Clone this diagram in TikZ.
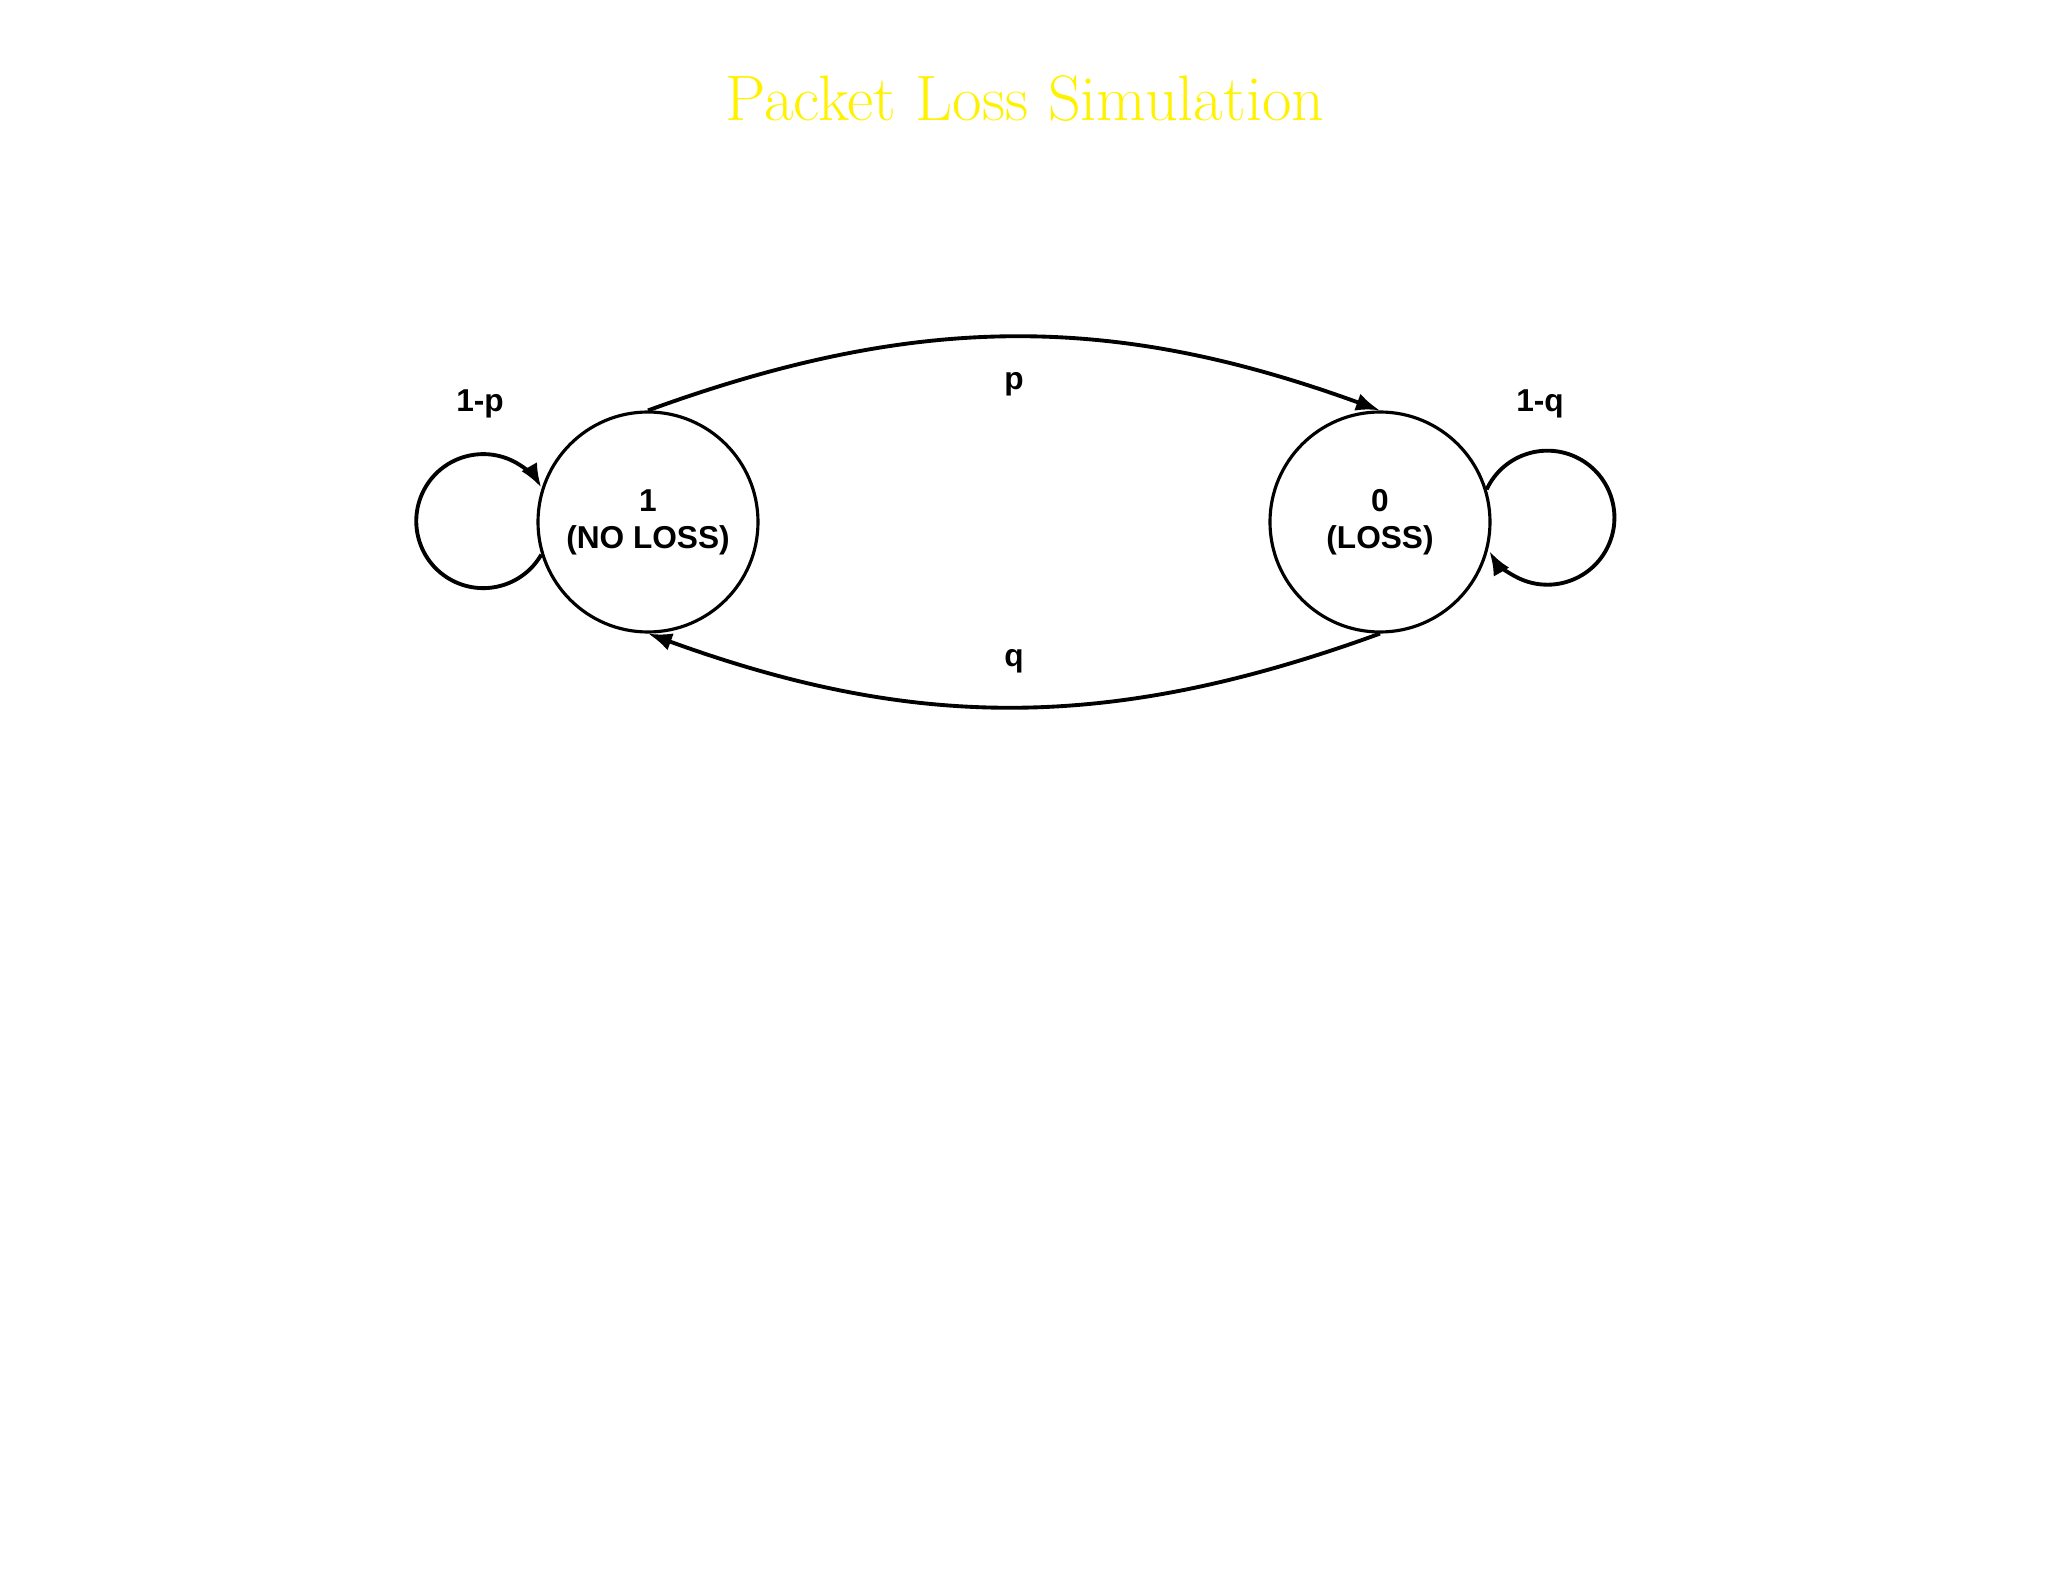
\documentclass[tikz,border=0pt]{standalone}
\usepackage{fontspec}
\newfontfamily\arialfont{Liberation Sans}
\usetikzlibrary{positioning}
\usetikzlibrary{arrows.meta}

\begin{document}
\begin{tikzpicture}[statenode/.style={circle, draw=black, fill=white, line width=0.9pt, minimum size=22mm, inner sep=0pt, align=center, font=\arialfont\bfseries\fontsize{9}{10.5}\selectfont},
edgelabel/.style={font=\arialfont\bfseries\fontsize{9}{10.5}\selectfont},
transition/.style={line width=1.1pt, -{Latex[length=2.4mm,width=1.8mm]}}]
\useasboundingbox (0,0) rectangle (20.48,-15.82);
\node[text=yellow, font=\fontsize{18.3}{22}\selectfont, anchor=base] (title) at (10.25,-1.21) {Packet Loss Simulation};

\node[statenode] (one) at (6.48,-5.22) {1\\(NO LOSS)};
\node[statenode] (zero) at (13.80,-5.22) {0\\(LOSS)};

\draw[transition] (one.north) to[bend left=20] node[edgelabel, below=2.2mm] (p) {p} (zero.north);
\draw[transition] (zero.south) to[bend left=20] node[edgelabel, above=2mm] (q) {q} (one.south);

% self loops
\draw[transition] (one.197.4) arc[start angle=-30, end angle=-330, radius=0.67];
\draw[transition] (zero.17.4) arc[start angle=155, end angle=-150, radius=0.67];
\node[edgelabel] (lp) at (4.80,-4.04) {1-p};
\node[edgelabel] (lq) at (15.40,-4.04) {1-q};
\end{tikzpicture}
\end{document}
